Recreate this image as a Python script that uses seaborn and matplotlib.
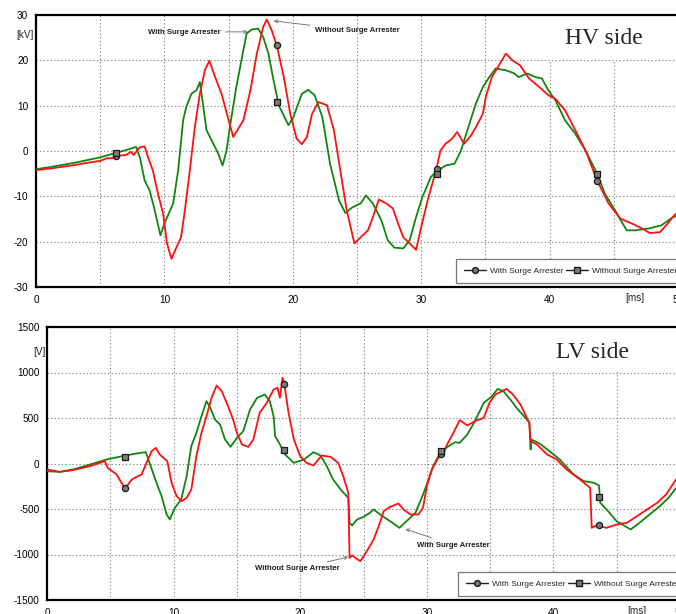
import numpy as np
import pandas as pd
import matplotlib
matplotlib.use("Agg")
import matplotlib.pyplot as plt
from matplotlib.lines import Line2D
from matplotlib.patches import Rectangle
import seaborn as sns

# ---------------- data ----------------
hv_green_t = [0, 1, 2, 3, 4, 5, 6, 7, 7.8, 8.1, 8.46, 8.85, 9.24, 9.69, 10.0, 10.68, 11.07, 11.46, 11.7, 12.1,
              12.5, 12.76, 13.0, 13.28, 13.67, 14.2, 14.53, 14.84, 15.1, 15.6, 16.0, 16.4, 16.8, 17.3, 17.7,
              18.1, 18.5, 18.9, 19.66, 20.05, 20.7, 21.2, 21.7, 22.3, 22.9, 23.6, 24.1, 24.6, 25.3, 25.7,
              26.24, 26.9, 27.4, 27.9, 28.6, 29.1, 29.6, 30.1, 30.76, 31.3, 31.9, 32.6, 33.1, 33.6, 34.25,
              34.8, 35.3, 35.8, 36.6, 37.2, 37.6, 38.26, 38.9, 39.4, 39.9, 40.45, 41.2, 42.0, 42.8, 43.7,
              44.3, 45.1, 46.0, 46.65, 47.7, 48.7, 49.6, 50.0]
hv_green_v = [-4.0, -3.6, -3.1, -2.6, -2.0, -1.4, -0.6, 0.2, 0.9, -1.5, -6.5, -8.7, -13.0, -18.6, -16.0, -11.6,
              -4.3, 6.8, 9.7, 12.6, 13.4, 15.2, 10.4, 4.6, 2.4, -0.6, -3.2, 0.1, 5.3, 14.1, 20.0, 25.9, 26.8,
              27.0, 25.1, 21.5, 15.6, 10.1, 5.7, 7.5, 12.6, 13.5, 12.3, 7.5, -2.8, -10.9, -13.7, -12.5, -11.5,
              -9.8, -11.6, -15.3, -19.7, -21.3, -21.5, -19.7, -14.6, -10.1, -5.7, -4.3, -3.2, -2.8, 0.1, 4.6,
              10.4, 14.1, 16.3, 18.2, 17.8, 17.2, 16.3, 17.1, 16.3, 16.0, 13.4, 11.2, 6.8, 3.8, 0.1, -5.0,
              -9.4, -13.1, -17.5, -17.5, -17.1, -16.4, -14.6, -14.2]

hv_red_t = [0, 1, 2, 3, 4, 5, 5.5, 6, 6.5, 7, 7.4, 7.6, 8.07, 8.46, 8.72, 9.1, 9.5, 9.9, 10.2, 10.55, 10.9,
            11.3, 11.6, 11.98, 12.37, 12.76, 13.15, 13.5, 13.9, 14.45, 15.0, 15.36, 15.75, 16.15, 16.7, 17.2,
            17.7, 17.97, 18.36, 18.75, 19.3, 19.8, 20.3, 20.7, 21.1, 21.5, 22.0, 22.66, 23.2, 23.7, 24.2, 24.8,
            25.3, 25.85, 26.24, 26.7, 27.3, 27.8, 28.2, 28.6, 29.1, 29.6, 30.0, 30.5, 31.15, 31.5, 31.9, 32.4,
            32.8, 33.35, 33.9, 34.4, 34.8, 35.03, 35.5, 36.2, 36.6, 37.1, 37.7, 38.4, 39.2, 39.9, 40.45, 41.2,
            42.0, 42.8, 43.7, 44.6, 45.5, 46.4, 47.2, 47.8, 48.6, 49.2, 49.7, 50.0]
hv_red_v = [-4.2, -3.9, -3.5, -3.1, -2.6, -2.2, -1.6, -1.6, -1.0, -0.9, -0.2, -0.9, 0.8, 1.0, -1.3, -4.3, -9.4,
            -13.8, -20.4, -23.8, -21.5, -19.0, -13.0, -4.3, 5.3, 12.6, 17.8, 19.9, 16.7, 12.6, 6.8, 3.1, 4.9,
            6.8, 13.4, 21.5, 27.4, 29.0, 26.6, 23.3, 16.3, 8.2, 2.7, 1.5, 3.1, 8.2, 10.8, 10.1, 4.6, -4.3,
            -13.1, -20.4, -19.0, -17.5, -14.6, -10.7, -11.6, -12.7, -16.0, -19.0, -20.4, -21.8, -16.8, -10.9,
            -4.3, 0.1, 1.6, 2.7, 4.2, 1.6, 3.5, 6.0, 8.2, 11.9, 16.3, 19.6, 21.5, 20.0, 18.9, 16.0, 14.1, 12.3,
            11.5, 9.0, 4.6, 0.1, -6.5, -11.6, -14.9, -16.0, -17.1, -18.1, -17.9, -16.0, -14.2, -13.5]

lv_green_t = [0, 1, 2.06, 3.4, 4.7, 6.2, 7.07, 7.8, 8.1, 8.65, 9.05, 9.45, 9.7, 10.1, 10.6, 11.03, 11.4, 11.8,
              12.2, 12.6, 12.9, 13.27, 13.67, 14.06, 14.5, 15.0, 15.5, 16.04, 16.6, 17.2, 17.6, 17.9, 18.02,
              18.4, 18.8, 19.5, 20.3, 21.05, 21.6, 22.1, 22.6, 23.3, 23.8, 23.9, 24.1, 24.5, 25.0, 25.5, 25.8,
              26.3, 27.1, 27.84, 28.4, 29.1, 29.6, 30.0, 30.5, 31.05, 31.7, 32.24, 32.6, 33.2, 33.8, 34.5,
              35.1, 35.6, 36.05, 36.6, 37.2, 37.8, 38.1, 38.15, 38.2, 38.26, 38.9, 39.7, 40.5, 41.6, 42.4,
              43.2, 43.6, 43.7, 44.2, 45.0, 46.1, 46.8, 47.6, 48.4, 49.1, 49.6, 50.0]
lv_green_v = [-84, -92, -66, -11, 44, 88, 110, 125, 7, -212, -359, -560, -615, -487, -396, -139, 190, 337, 520,
              685, 612, 483, 428, 264, 183, 282, 355, 593, 722, 758, 685, 520, 300, 209, 99, 7, 44, 125, 88,
              -29, -176, -304, -377, -652, -681, -615, -586, -542, -505, -560, -634, -707, -634, -542, -377,
              -231, -29, 117, 190, 234, 227, 319, 465, 667, 733, 820, 795, 703, 593, 502, 447, 300, 154, 264,
              220, 135, 44, -121, -194, -212, -242, -432, -505, -634, -725, -652, -560, -469, -377, -286, -220]

lv_red_t = [0, 1, 2.06, 3.4, 4.56, 4.8, 5.5, 5.96, 6.2, 6.7, 7.07, 7.47, 7.86, 8.26, 8.6, 8.9, 9.5, 9.84,
            10.24, 10.63, 11.03, 11.4, 11.8, 12.2, 12.6, 13.0, 13.4, 13.8, 14.3, 14.7, 15.0, 15.4, 15.9, 16.3,
            16.8, 17.36, 17.9, 18.2, 18.4, 18.6, 18.73, 19.08, 19.5, 20.0, 20.5, 21.05, 21.7, 22.4, 23.0, 23.4,
            23.8, 23.9, 24.1, 24.35, 24.75, 25.1, 25.5, 25.8, 26.2, 26.6, 27.1, 27.76, 28.16, 28.7, 29.34,
            29.7, 30.0, 30.4, 30.9, 31.3, 31.6, 32.1, 32.6, 33.2, 33.8, 34.5, 34.95, 35.4, 35.8, 36.3, 36.8,
            37.4, 37.84, 38.1, 38.2, 38.7, 39.5, 40.26, 41.05, 42.1, 42.9, 43.03, 43.4, 44.2, 45.0, 45.8,
            46.6, 47.4, 48.2, 48.9, 49.6, 50.0]
lv_red_v = [-66, -92, -73, -29, 26, -48, -121, -231, -267, -176, -147, -121, 7, 135, 172, 99, 26, -212, -359,
            -414, -377, -286, 81, 337, 520, 722, 857, 795, 630, 483, 337, 209, 183, 264, 557, 667, 813, 832,
            722, 941, 886, 557, 264, 81, 7, -22, 88, 73, 7, -139, -322, -1037, -1011, -1037, -1073, -1000,
            -908, -835, -689, -523, -476, -440, -505, -560, -560, -487, -249, -66, 62, 99, 209, 337, 476, 418,
            465, 502, 667, 758, 784, 820, 758, 648, 520, 447, 245, 209, 99, 44, -66, -176, -267, -707, -681,
            -707, -670, -652, -579, -505, -432, -340, -194, -110]

# marker points
hv_mark_t = [6.2, 18.75, 31.2, 43.7]
hv_circle_v = [-1.1, 23.3, -3.9, -6.7]
hv_square_v = [-0.4, 10.8, -5.1, -5.1]
lv_mark_t = [6.2, 18.7, 31.1, 43.6]
lv_circle_v = [-267, 875, 99, -678]
lv_square_v = [70, 143, 136, -370]

x_ticks = [0, 5, 10, 15, 20, 25, 30, 35, 40, 45, 50]
x_ticklabels = ["0", "", "10", "", "20", "", "30", "", "40", "", "50"]
hv_yticks = [-30, -20, -10, 0, 10, 20, 30]
lv_yticks = [-1500, -1000, -500, 0, 500, 1000, 1500]
legend_labels = ["With Surge Arrester", "Without Surge Arrester"]

# ---------------- style ----------------
sns.set_style("white")
plt.rcParams["font.family"] = ["Liberation Sans", "DejaVu Sans"]

RED = "#ff1010"
GREEN = "#0f870f"
GRID = "#8a8a8a"

fig = plt.figure(figsize=(6.76, 6.14), dpi=100)
ax1 = fig.add_axes([36 / 676, 1 - 287 / 614, 642 / 676, 272 / 614])
ax2 = fig.add_axes([47 / 676, 1 - 600 / 614, 633 / 676, 273 / 614])


def style_axes(ax, yticks, ylim, unit, unit_xy):
    ax.set_xlim(0, 50)
    ax.set_ylim(*ylim)
    ax.set_xticks(x_ticks)
    ax.set_xticklabels(x_ticklabels)
    ax.set_yticks(yticks)
    ax.set_yticklabels([str(v) for v in yticks])
    ax.grid(True, linestyle=(0, (1.2, 2.0)), color=GRID, linewidth=0.8)
    for sp in ax.spines.values():
        sp.set_color("black")
        sp.set_linewidth(1.6)
        sp.set_visible(True)
    ax.tick_params(axis="both", direction="out", length=4, width=1.4, colors="black",
                   labelsize=7.2, pad=1.5)
    ax.set_xlabel("")
    ax.set_ylabel("")
    ax.text(46.6, ylim[0], "[ms]", ha="center", va="top", fontsize=7.2,
            transform=ax.transData).set_position((46.6, ylim[0] - (ylim[1] - ylim[0]) * 0.022))
    ax.text(unit_xy[0], unit_xy[1], unit, transform=ax.transAxes, ha="right", va="center", fontsize=7.2)


def draw(ax, gt, gv, rt, rv, mt, cv, sv):
    sns.lineplot(x=gt, y=gv, ax=ax, color=GREEN, linewidth=1.3, estimator=None, sort=False, zorder=3)
    sns.lineplot(x=rt, y=rv, ax=ax, color=RED, linewidth=1.3, estimator=None, sort=False, zorder=3)
    sns.scatterplot(x=mt, y=cv, ax=ax, marker="o", s=20, color="#7a7a7a", edgecolor="#1a1a1a",
                    linewidth=0.9, zorder=5)
    sns.scatterplot(x=mt, y=sv, ax=ax, marker="s", s=24, color="#7a7a7a", edgecolor="#1a1a1a",
                    linewidth=0.9, zorder=5)


draw(ax1, hv_green_t, hv_green_v, hv_red_t, hv_red_v, hv_mark_t, hv_circle_v, hv_square_v)
draw(ax2, lv_green_t, lv_green_v, lv_red_t, lv_red_v, lv_mark_t, lv_circle_v, lv_square_v)

style_axes(ax1, hv_yticks, (-30, 30), "[kV]", (-0.003, 0.925))
style_axes(ax2, lv_yticks, (-1500, 1500), "[V]", (-0.002, 0.91))

# white boxes behind titles
ax1.add_patch(Rectangle((0.794, 0.835), 0.25, 0.165, transform=ax1.transAxes, facecolor="white",
                        edgecolor="none", zorder=2))
ax2.add_patch(Rectangle((0.771, 0.835), 0.25, 0.165, transform=ax2.transAxes, facecolor="white",
                        edgecolor="none", zorder=2))
ax1.text(604 / 676 * 676, 0, "")
ax1.text((604 - 36) / 642, 1 - (39 - 15) / 272, "HV side", transform=ax1.transAxes, ha="center",
         va="center", fontsize=17, family="Liberation Serif", zorder=6)
ax2.text((593 - 47) / 633, 1 - (352 - 327) / 273, "LV side", transform=ax2.transAxes, ha="center",
         va="center", fontsize=17, family="Liberation Serif", zorder=6)

# annotations
ann_kw = dict(fontsize=5.6, color="#202020", fontweight="bold",
              arrowprops=dict(arrowstyle="->", color="#7a7a7a", lw=0.7, shrinkA=1, shrinkB=0))
ax1.annotate(legend_labels[0], xy=(16.5, 26.3), xytext=(14.4, 26.2), ha="right", va="center", **ann_kw)
ax1.annotate(legend_labels[1], xy=(18.5, 28.7), xytext=(21.7, 26.5), ha="left", va="center", **ann_kw)
ax2.annotate(legend_labels[1], xy=(23.8, -1027), xytext=(23.1, -1159), ha="right", va="center", **ann_kw)
ax2.annotate(legend_labels[0], xy=(28.3, -720), xytext=(29.2, -896), ha="left", va="center", **ann_kw)

# legends
handles = [
    Line2D([0], [0], color="#202020", lw=1.0, marker="o", markersize=4.2, markerfacecolor="#7a7a7a",
           markeredgecolor="#1a1a1a"),
    Line2D([0], [0], color="#202020", lw=1.0, marker="s", markersize=4.6, markerfacecolor="#7a7a7a",
           markeredgecolor="#1a1a1a"),
]
for ax in (ax1, ax2):
    leg = ax.legend(handles, legend_labels, ncol=2, loc="lower right", bbox_to_anchor=(1.012, 0.013),
                    fontsize=6, frameon=True, fancybox=False, framealpha=1, edgecolor="#777777",
                    handlelength=2.6, handletextpad=0.5, columnspacing=0.35, borderpad=1.0,
                    borderaxespad=0)
    leg.get_frame().set_linewidth(0.9)
    leg.set_zorder(7)

fig.savefig("out.png", dpi=100)
